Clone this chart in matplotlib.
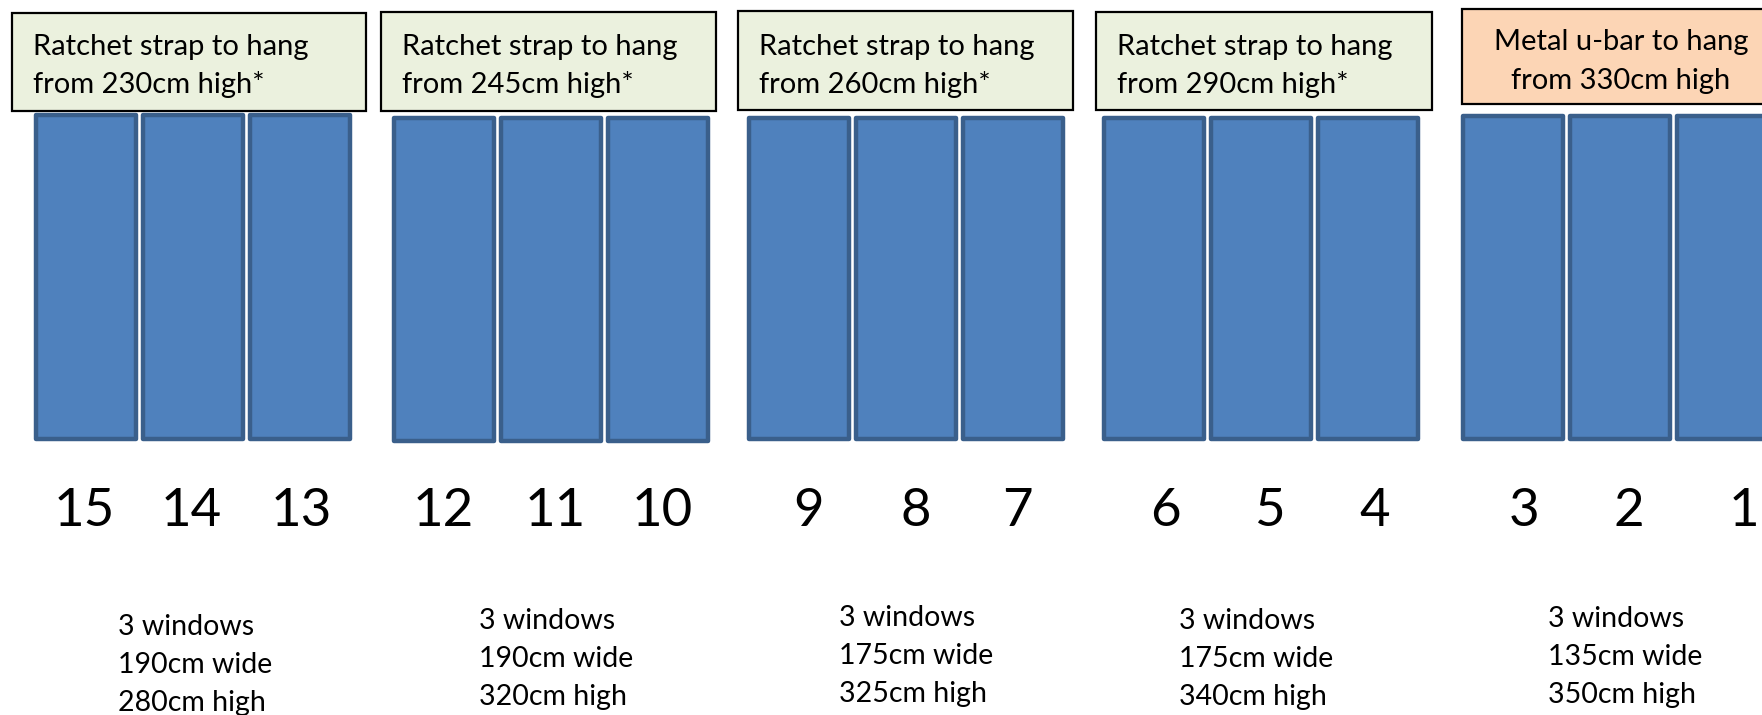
import matplotlib
matplotlib.use("Agg")
import matplotlib.pyplot as plt
from matplotlib.patches import Rectangle

plt.rcParams['font.family'] = ['Lato', 'DejaVu Sans']

# datos del esquema
hang_type = ["Ratchet strap to hang", "Ratchet strap to hang", "Ratchet strap to hang",
             "Ratchet strap to hang", "Metal u-bar to hang"]
hang_from = ["from 230cm high*", "from 245cm high*", "from 260cm high*",
             "from 290cm high*", "from 330cm high"]
window_numbers = [[15, 14, 13], [12, 11, 10], [9, 8, 7], [6, 5, 4], [3, 2, 1]]
window_count = [3, 3, 3, 3, 3]
width_cm = [190, 190, 175, 175, 135]
height_cm = [280, 320, 325, 340, 350]

# posiciones (pixeles)
box_left = [12, 381, 738, 1096, 1462]
box_right = [366, 716, 1073, 1432, 1800]
box_top = [13, 12, 11, 12, 9]
box_bottom = [111, 111, 110, 110, 104]
win_left = [34, 392, 747, 1102, 1461]
win_top = [113, 116, 116, 116, 114]
win_bottom = [441, 443, 441, 441, 441]
num_x = [[84, 191, 301], [443, 555, 662], [809, 916, 1017], [1165, 1269, 1375], [1524, 1629, 1744]]
info_x = [118, 479, 839, 1179, 1548]
info_y = [635, 629, 626, 629, 627]

fig = plt.figure(figsize=(17.62, 7.15), dpi=100)
ax = fig.add_axes([0, 0, 1, 1])
ax.set_xlim(0, 1762)
ax.set_ylim(715, 0)
ax.axis('off')

for i in range(len(hang_type)):
    # caja de arriba
    color = '#FCD5B5' if i == 4 else '#EBF1DE'
    ax.add_patch(Rectangle((box_left[i], box_top[i]), box_right[i] - box_left[i],
                           box_bottom[i] - box_top[i], facecolor=color,
                           edgecolor='black', linewidth=1.6))
    if i == 4:
        ax.text(1621, 50, hang_type[i], ha='center', va='baseline', fontsize=21)
        ax.text(1621, 89, hang_from[i], ha='center', va='baseline', fontsize=21)
    else:
        ax.text(box_left[i] + 21, 55, hang_type[i], ha='left', va='baseline', fontsize=21)
        ax.text(box_left[i] + 21, 93, hang_from[i], ha='left', va='baseline', fontsize=21)

    # ventanas
    for j in range(window_count[i]):
        x0 = win_left[i] + j * 107
        ax.add_patch(Rectangle((x0 + 2, win_top[i] + 2), 100, win_bottom[i] - win_top[i] - 4,
                               facecolor='#4F81BD', edgecolor='#3A5F8B', linewidth=3.2,
                               joinstyle='round'))
        ax.text(num_x[i][j], 526, str(window_numbers[i][j]), ha='center',
                va='baseline', fontsize=38)

    # texto de medidas
    lines = [f"{window_count[i]} windows", f"{width_cm[i]}cm wide", f"{height_cm[i]}cm high"]
    for k, line in enumerate(lines):
        ax.text(info_x[i], info_y[i] + k * 38, line, ha='left', va='baseline', fontsize=20.5)

fig.savefig('out.png', dpi=100)
